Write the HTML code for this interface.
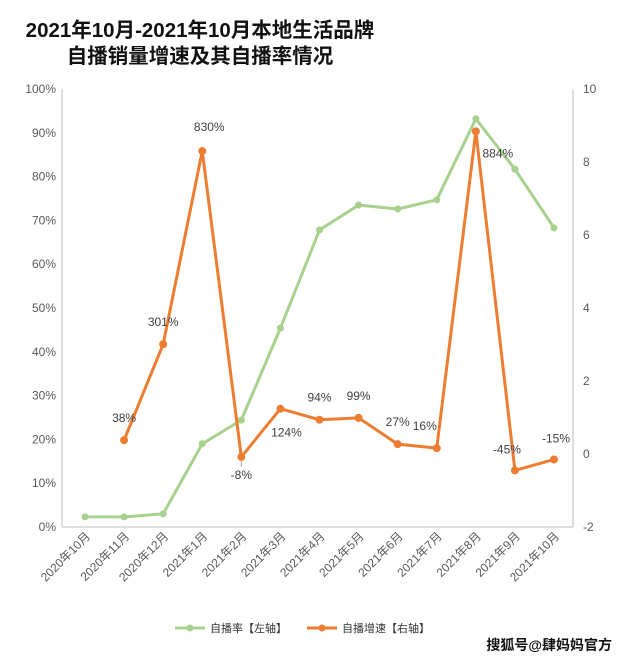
<!DOCTYPE html>
<html><head><meta charset="utf-8"><style>
body{margin:0;background:#fff;width:624px;height:664px;overflow:hidden;font-family:"Liberation Sans","Noto Sans CJK SC",sans-serif;}
</style></head><body>
<svg id="chart" width="624" height="664" xmlns="http://www.w3.org/2000/svg" font-family="Liberation Sans, Noto Sans CJK SC, sans-serif">
<text x="200" y="37" text-anchor="middle" font-size="20.5" font-weight="bold" fill="#111">2021年10月-2021年10月本地生活品牌</text>
<text x="200" y="63" text-anchor="middle" font-size="20.5" font-weight="bold" fill="#111">自播销量增速及其自播率情况</text>
<g id="axes"></g><g id="marks"></g>
<g>
<line x1="175" y1="628" x2="205" y2="628" stroke="#a9d18e" stroke-width="3"/><circle cx="190" cy="628" r="3.5" fill="#a9d18e"/>
<text x="210" y="632" font-size="11" fill="#333">自播率【左轴】</text>
<line x1="307" y1="628" x2="337" y2="628" stroke="#ed7d31" stroke-width="3"/><circle cx="322" cy="628" r="3.5" fill="#ed7d31"/>
<text x="342" y="632" font-size="11" fill="#333">自播增速【右轴】</text>
</g>
<text x="612" y="650" text-anchor="end" font-size="14" font-weight="bold" fill="#111">搜狐号@肆妈妈官方</text>
</svg>
<script>
const categories=["2020年10月","2020年11月","2020年12月","2021年1月","2021年2月","2021年3月","2021年4月","2021年5月","2021年6月","2021年7月","2021年8月","2021年9月","2021年10月"];
const rateValues=[2.3,2.3,3.0,19.0,24.4,45.4,67.8,73.5,72.6,74.7,93.2,81.7,68.3];
const growthValues=[null,0.38,3.01,8.30,-0.08,1.24,0.94,0.99,0.27,0.16,8.84,-0.45,-0.15];
const growthLabels=["","38%","301%","830%","-8%","124%","94%","99%","27%","16%","884%","-45%","-15%"];
const leftTicks=[0,10,20,30,40,50,60,70,80,90,100];
const rightTicks=[-2,0,2,4,6,8,10];
const NS="http://www.w3.org/2000/svg";
const X0=62,X1=573,Y0=527,Y1=89;
const xs=i=>85+i*(554-85)/(categories.length-1);
const yl=v=>Y0-(v-0)/100*(Y0-Y1);
const yr=v=>Y0-(v+2)/12*(Y0-Y1);
const axes=document.getElementById('axes'),marks=document.getElementById('marks');
function mk(tag,attrs,parent,txt){const e=document.createElementNS(NS,tag);for(const k in attrs)e.setAttribute(k,attrs[k]);if(txt!==undefined)e.textContent=txt;parent.appendChild(e);return e;}
let e;
e=mk('line',{x1:X0,y1:Y1,x2:X0,y2:Y0,stroke:'#bfbfbf'},axes);


e=mk('line',{x1:X1,y1:Y1,x2:X1,y2:Y0,stroke:'#bfbfbf'},axes);


e=mk('line',{x1:X0,y1:Y0,x2:X1,y2:Y0,stroke:'#bfbfbf'},axes);


leftTicks.forEach(t=>{e=mk('text',{x:X0-6,y:yl(t)+4,'text-anchor':'end','font-size':12,fill:'#595959'},axes,t+'%');

});
rightTicks.forEach(t=>{e=mk('text',{x:X1+10,y:yr(t)+4,'font-size':12,fill:'#595959'},axes,t);

});
categories.forEach((c,i)=>{const x=xs(i)+6,y=Y0+10;e=mk('text',{x:x,y:y,'text-anchor':'end','font-size':12,fill:'#595959',transform:`rotate(-45 ${x} ${y})`},axes,c);

});
let d='';rateValues.forEach((v,i)=>{d+=(i?'L':'M')+xs(i)+' '+yl(v);});
e=mk('path',{d:d,fill:'none',stroke:'#a9d18e','stroke-width':3},marks);


rateValues.forEach((v,i)=>{e=mk('circle',{cx:xs(i),cy:yl(v),r:3.5,fill:'#a9d18e'},marks);

});
d='';let first=true;growthValues.forEach((v,i)=>{if(v===null)return;d+=(first?'M':'L')+xs(i)+' '+yr(v);first=false;});
e=mk('path',{d:d,fill:'none',stroke:'#ed7d31','stroke-width':3},marks);


e=mk('line',{x1:xs(4),y1:yr(growthValues[4])+4,x2:xs(4),y2:yr(growthValues[4])+10,stroke:'#a6a6a6'},marks);


const offs=[[0,0],[0,-18],[0,-18],[7,-20],[0,22],[6,28],[0,-18],[0,-18],[0,-18],[-12,-18],[22,26],[-8,-17],[2,-17]];
growthValues.forEach((v,i)=>{if(v===null)return;
e=mk('circle',{cx:xs(i),cy:yr(v),r:4,fill:'#ed7d31'},marks);


e=mk('text',{x:xs(i)+offs[i][0],y:yr(v)+offs[i][1],'text-anchor':'middle','font-size':12,fill:'#404040'},marks,growthLabels[i]);

});
</script>
</body></html>
